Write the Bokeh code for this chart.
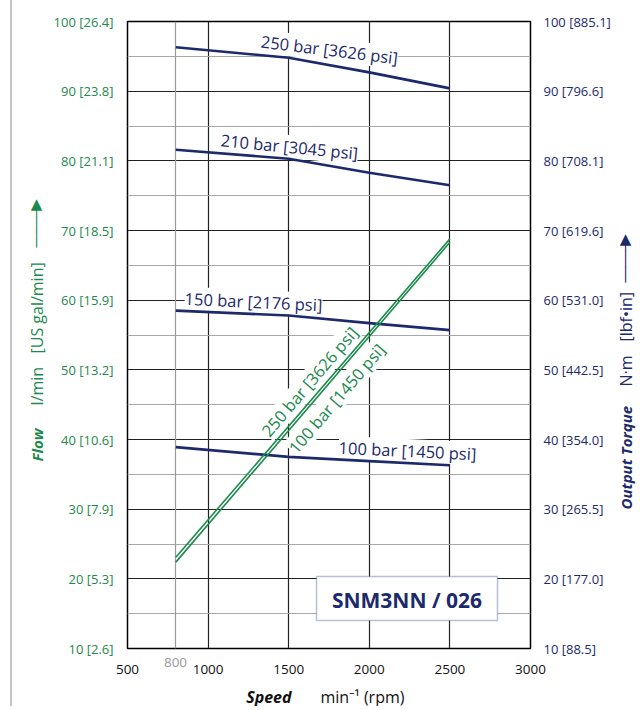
import math
from bokeh.plotting import figure
from bokeh.models import (LinearAxis, FixedTicker, Grid, Label, BoxAnnotation, Range1d)
from bokeh.embed import file_html
from bokeh.resources import INLINE

# ---------------- data ----------------
speed_torque = [800, 1500, 2000, 2500]
torque_250bar = [96.3, 94.8, 92.7, 90.4]
torque_210bar = [81.6, 80.3, 78.3, 76.5]
torque_150bar = [58.5, 57.8, 56.7, 55.7]
torque_100bar = [38.9, 37.5, 36.9, 36.3]

speed_flow = [800, 2500]
flow_100bar = [23.1, 68.8]
flow_250bar = [22.4, 68.3]

x_ticks = [500, 1000, 1500, 2000, 2500, 3000]
y_ticks = [10, 20, 30, 40, 50, 60, 70, 80, 90, 100]
y_minor = [15, 25, 35, 45, 55, 65, 75, 85, 95]
flow_gal_labels = ["2.6", "5.3", "7.9", "10.6", "13.2", "15.9", "18.5", "21.1", "23.8", "26.4"]
torque_lbf_labels = ["88.5", "177.0", "265.5", "354.0", "442.5", "531.0", "619.6", "708.1", "796.6", "885.1"]

GREEN = "#1b8a4c"
NAVY = "#1c2a6c"
FONT = "Open Sans"

FL, FR, FT, FB = 127, 530, 22, 649   # frame in page px
CX0 = 12                             # canvas left on the page (10px margin + 2px border)
T_PANEL = 402                        # height of the top panel holding the outside texts
p = figure(frame_width=FR - FL, frame_height=FB - FT, output_backend="svg", toolbar_location=None,
           x_range=Range1d(500, 3000), y_range=Range1d(10, 100),
           min_border_left=FL - CX0, min_border_right=640 - FR,
           min_border_top=15, min_border_bottom=58)
p.styles = {"margin-left": "10px", "border-left": "2px solid #c4c4c4",
            "margin-top": f"{FT - T_PANEL}px"}
p.outline_line_color = "black"
p.outline_line_width = 1.5
p.background_fill_color = "white"


def X(px):
    return 500 + (px - FL) * 2500 / (FR - FL)


def Y(py):
    return 100 - (py - FT) * 90 / (FB - FT)


# axes
p.xaxis.ticker = FixedTicker(ticks=x_ticks)
p.yaxis.ticker = FixedTicker(ticks=y_ticks)
p.yaxis.major_label_overrides = {v: f"{v} [{g}]" for v, g in zip(y_ticks, flow_gal_labels)}
for ax in (p.xaxis[0], p.yaxis[0]):
    ax.axis_line_color = None
    ax.major_tick_line_color = None
    ax.minor_tick_line_color = None
    ax.major_label_text_font = FONT
    ax.major_label_text_font_size = "13px"
p.xaxis.major_label_text_color = "#111111"
p.xaxis.major_label_text_font_size = "13.5px"
p.xaxis.major_label_standoff = 10
p.yaxis.major_label_text_color = GREEN
p.yaxis.major_label_standoff = 8

rax = LinearAxis(ticker=FixedTicker(ticks=y_ticks),
                 major_label_overrides={v: f"{v} [{g}]" for v, g in zip(y_ticks, torque_lbf_labels)})
rax.axis_line_color = None
rax.major_tick_line_color = None
rax.minor_tick_line_color = None
rax.major_label_text_font = FONT
rax.major_label_text_font_size = "13px"
rax.major_label_text_color = NAVY
rax.major_label_standoff = 7
p.add_layout(rax, "right")

# grids
p.xgrid.ticker = FixedTicker(ticks=[1000, 1500, 2000, 2500])
p.xgrid.grid_line_color = "#222222"
p.xgrid.grid_line_width = 1.2
g800 = Grid(dimension=0, ticker=FixedTicker(ticks=[800]), grid_line_color="#9a9a9a", grid_line_width=1.2)
p.add_layout(g800)
p.ygrid.ticker = FixedTicker(ticks=y_ticks[1:-1], minor_ticks=y_minor)
p.ygrid.grid_line_color = "#222222"
p.ygrid.grid_line_width = 1.2
p.ygrid.minor_grid_line_color = "#a8a8a8"
p.ygrid.minor_grid_line_width = 1.2


# curve labels (white boxes under the lines)
def curve_label(text, cx, cy, deg, color, size="16.5px"):
    lab = Label(x=X(cx), y=Y(cy), text=text, angle=math.radians(deg),
                text_align="center", text_baseline="middle",
                text_font=FONT, text_font_size=size, text_color=color,
                background_fill_color="white", level="underlay")
    p.add_layout(lab)


curve_label("250 bar [3626 psi]", 329, 50, -7, NAVY)
curve_label("210 bar [3045 psi]", 289, 147, -5.5, NAVY)
curve_label("150 bar [2176 psi]", 253, 302, -2.7, NAVY)
curve_label("100 bar [1450 psi]", 407, 451, -2.7, NAVY)
curve_label("250 bar [3626 psi]", 309, 382, 49.5, GREEN)
curve_label("100 bar [1450 psi]", 336, 399, 49.5, GREEN)

# torque lines
for ys in (torque_250bar, torque_210bar, torque_150bar, torque_100bar):
    p.line(speed_torque, ys, line_color=NAVY, line_width=2.6)

# flow lines
p.line(speed_flow, flow_100bar, line_color=GREEN, line_width=1.6)
p.line(speed_flow, flow_250bar, line_color=GREEN, line_width=1.6)

# model box
box = BoxAnnotation(left=X(316), right=X(497), top=Y(577), bottom=Y(621),
                    fill_color="white", fill_alpha=1.0, line_color=NAVY, line_width=1.5)
p.add_layout(box)
p.add_layout(Label(x=X(406.5), y=Y(600), text="SNM3NN / 026", text_align="center",
                   text_baseline="middle", text_font=FONT, text_font_style="bold",
                   text_font_size="21px", text_color=NAVY))


# --- texts outside the frame live in side panels (annotations there are not clipped) ---
def side_label(text, px, py, color, size, style="normal", angle=0.0, align="center",
               font=FONT, side="above"):
    p.add_layout(Label(x=X(px), y=Y(py), text=text, angle=angle, text_align=align,
                       text_baseline="middle", text_font=font, text_font_style=style,
                       text_font_size=size, text_color=color), side)


def up_arrow(px, y_tail, y_tip, color, side):
    side_label("\u2500" * 5, px, (y_tail + y_tip + 12) / 2, color, "13px",
               angle=math.pi / 2, font="DejaVu Sans Mono", side=side)
    side_label("\u25b2", px, y_tip + 7, color, "15px", font="DejaVu Sans", side=side)


side_label("800", 175, 663, "#9a9a9a", "13.5px")
side_label("Speed", 291, 697, "#111111", "16px", "bold italic", align="right")
side_label("min\u207b\u00b9 (rpm)", 320, 697, "#111111", "16px", align="left")

for txt, bottom, style, size in (("Flow", 462, "bold italic", "15px"),
                                 ("l/min", 406, "normal", "16px"),
                                 ("[US gal/min]", 354, "normal", "16px")):
    side_label(txt, 36, bottom, GREEN, size, style, angle=math.pi / 2, align="left")
up_arrow(36, 248, 197, GREEN, "left")

for txt, bottom, style, size in (("Output Torque", 510, "bold italic", "15px"),
                                 ("N\u00b7m", 387, "normal", "16px"),
                                 ("[lbf\u2022in]", 342, "normal", "16px")):
    side_label(txt, 625, bottom, NAVY, size, style, angle=math.pi / 2, align="left")
up_arrow(625, 283, 232, NAVY, "right")

open("out.html", "w").write(file_html(p, INLINE))
